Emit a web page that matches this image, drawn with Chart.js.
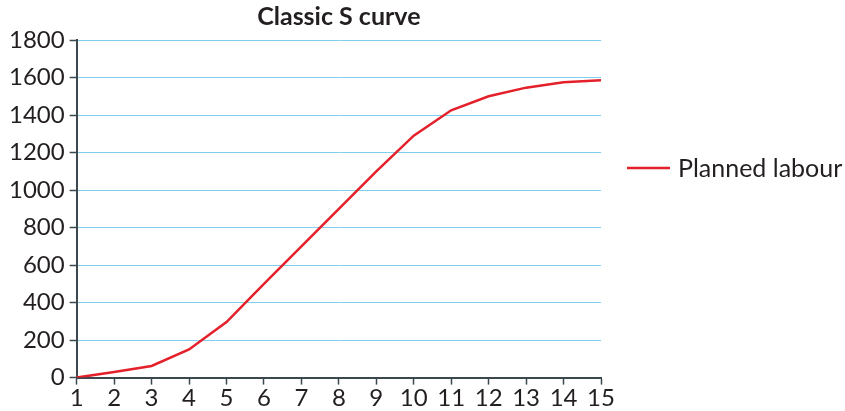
<!DOCTYPE html>
<html>
<head>
<meta charset="utf-8">
<script src="https://cdn.jsdelivr.net/npm/chart.js@4.4.0/dist/chart.umd.min.js"></script>
<style>
  html, body { margin: 0; padding: 0; background: #fff; }
  #wrap { width: 845px; height: 411px; }
</style>
</head>
<body>
<div id="wrap"><canvas id="myChart"></canvas></div>
<script>
// weeks along the bottom
var weeks = ["1", "2", "3", "4", "5", "6", "7", "8", "9", "10", "11", "12", "13", "14", "15"];
// cumulative planned labour
var plannedLabour = [0, 30, 62, 150, 296, 500, 700, 900, 1100, 1290, 1425, 1500, 1546, 1575, 1585];
var seriesName = "Planned labour";
var chartTitle = "Classic S curve";

var textColor = '#231f20';
var axisColor = '#3c4850';
var lineRed = '#e4202a';

// legend drawn beside the plot, like the original
var sideLegend = {
    id: 'sideLegend',
    afterDraw: function(chart) {
        var c = chart.ctx;
        var x = chart.chartArea.right + 26;
        var y = chart.chartArea.top + 128;
        c.save();
        c.strokeStyle = lineRed;
        c.lineWidth = 2.5;
        c.beginPath();
        c.moveTo(x, y);
        c.lineTo(x + 43, y);
        c.stroke();
        c.fillStyle = textColor;
        c.font = '25px Lato';
        c.textBaseline = 'middle';
        c.fillText(seriesName, x + 51, y + 1);
        c.restore();
    }
};

var ctx = document.getElementById("myChart");
var myChart = new Chart(ctx, {
    type: 'line',
    data: {
        labels: weeks,
        datasets: [
            {
                label: seriesName,
                data: plannedLabour,
                borderColor: lineRed,
                backgroundColor: lineRed,
                borderWidth: 2.5,
                pointRadius: 0,
                tension: 0,
                fill: false
            }
        ]
    },
    options: {
        responsive: true,
        maintainAspectRatio: false,
        animation: false,
        layout: {
            padding: { left: 4, right: 244, top: 0, bottom: 0 }
        },
        plugins: {
            legend: { display: false },
            tooltip: { enabled: false },
            title: {
                display: true,
                text: chartTitle,
                fullSize: false,
                color: textColor,
                font: { family: 'Lato', size: 25, weight: 'bold' },
                padding: { top: 2, bottom: 8 }
            }
        },
        scales: {
            x: {
                offset: false,
                grid: {
                    drawOnChartArea: false,
                    drawTicks: true,
                    tickLength: 7,
                    tickColor: axisColor,
                    tickWidth: 1.5
                },
                border: { color: axisColor, width: 2 },
                ticks: {
                    color: textColor,
                    font: { family: 'Lato', size: 24, lineHeight: 1.1 },
                    padding: 0,
                    maxRotation: 0,
                    autoSkip: false
                }
            },
            y: {
                min: 0,
                max: 1800,
                grid: {
                    color: '#7fd0ee',
                    lineWidth: 1,
                    tickLength: 7,
                    tickColor: axisColor,
                    tickWidth: 1.5
                },
                border: { color: axisColor, width: 2 },
                ticks: {
                    stepSize: 200,
                    color: textColor,
                    font: { family: 'Lato', size: 24 },
                    padding: 5,
                    callback: function(v) { return String(v); }
                }
            }
        }
    },
    plugins: [sideLegend]
});
</script>
</body>
</html>
